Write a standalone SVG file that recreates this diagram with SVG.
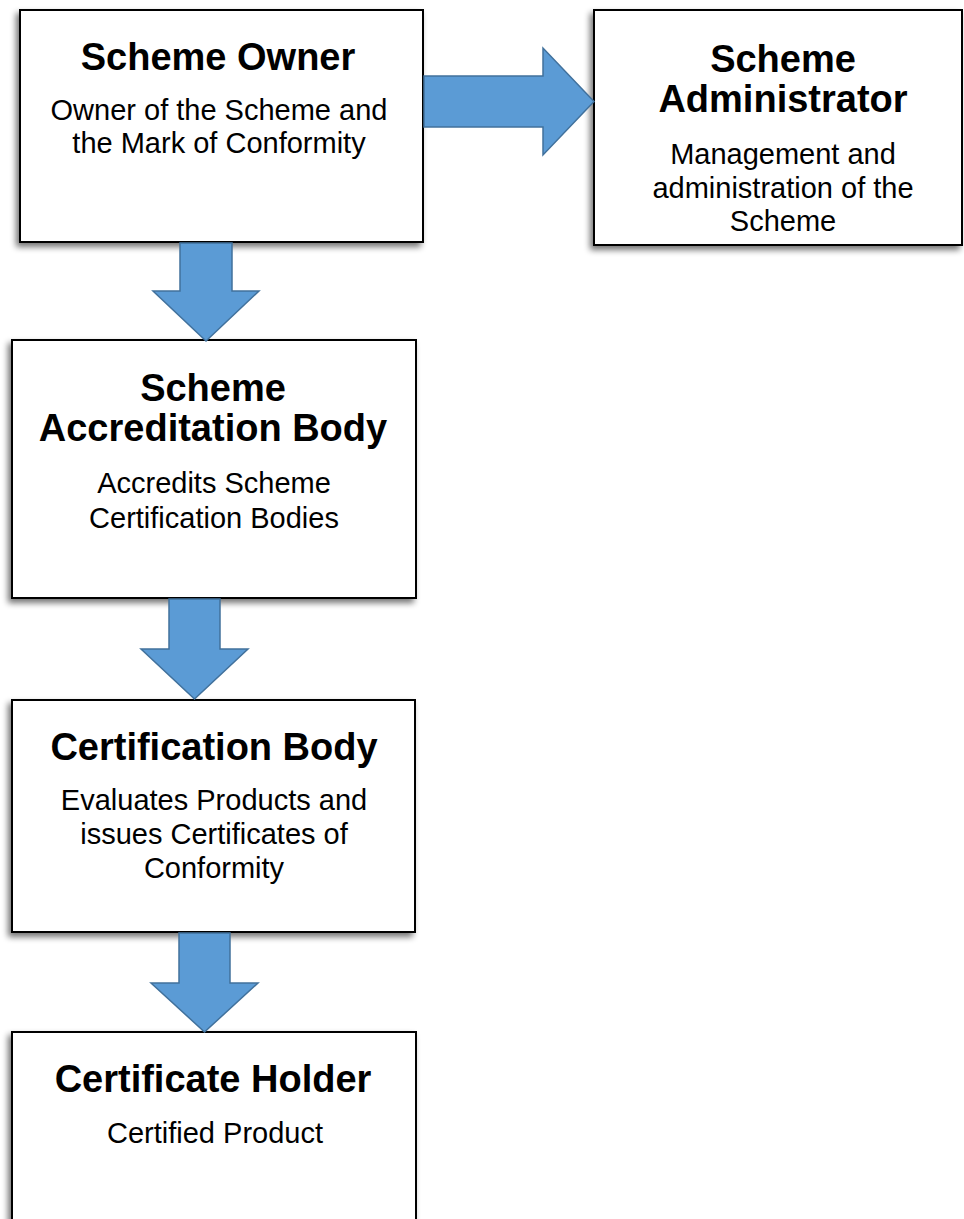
<svg xmlns="http://www.w3.org/2000/svg" width="964" height="1219" viewBox="0 0 964 1219">
  <style>
    .box { fill: #ffffff; stroke: #000000; stroke-width: 2; filter: url(#shadow); }
    .title { font-family: "Liberation Sans", Arial, sans-serif; font-weight: bold; font-size: 38px; fill: #000000; text-anchor: middle; }
    .sub { font-family: "Liberation Sans", Arial, sans-serif; font-size: 29px; fill: #000000; text-anchor: middle; }
    .arrow { fill: #5B9BD5; stroke: #41719C; stroke-width: 1.5; stroke-linejoin: miter; }
  </style>
  <defs>
    <filter id="shadow" x="-10%" y="-10%" width="120%" height="125%">
      <feGaussianBlur in="SourceAlpha" stdDeviation="3"/>
      <feOffset dx="-3" dy="4" result="b"/>
      <feComponentTransfer><feFuncA type="linear" slope="0.55"/></feComponentTransfer>
      <feMerge><feMergeNode/><feMergeNode in="SourceGraphic"/></feMerge>
    </filter>
  </defs>
  <rect width="964" height="1219" fill="#ffffff"/>

  <g id="scheme-owner">
    <rect class="box" x="20" y="10" width="403" height="232"/>
    <text class="title" x="218" y="70">Scheme Owner</text>
    <text class="sub" x="219" y="120">Owner of the Scheme and</text>
    <text class="sub" x="219" y="153">the Mark of Conformity</text>
  </g>

  <g id="scheme-administrator">
    <rect class="box" x="594" y="10" width="368" height="235"/>
    <text class="title" x="783" y="72">Scheme</text>
    <text class="title" x="783" y="112">Administrator</text>
    <text class="sub" x="783" y="164">Management and</text>
    <text class="sub" x="783" y="198">administration of the</text>
    <text class="sub" x="783" y="231">Scheme</text>
  </g>

  <g id="scheme-accreditation-body">
    <rect class="box" x="12" y="340" width="404" height="258"/>
    <text class="title" x="213" y="401">Scheme</text>
    <text class="title" x="213" y="441">Accreditation Body</text>
    <text class="sub" x="214" y="493">Accredits Scheme</text>
    <text class="sub" x="214" y="528">Certification Bodies</text>
  </g>

  <g id="certification-body">
    <rect class="box" x="12" y="700" width="403" height="232"/>
    <text class="title" x="214" y="760">Certification Body</text>
    <text class="sub" x="214" y="810">Evaluates Products and</text>
    <text class="sub" x="214" y="844">issues Certificates of</text>
    <text class="sub" x="214" y="878">Conformity</text>
  </g>

  <g id="certificate-holder">
    <rect class="box" x="12" y="1032" width="404" height="200"/>
    <text class="title" x="213" y="1092">Certificate Holder</text>
    <text class="sub" x="215" y="1143">Certified Product</text>
  </g>

  <g id="connectors">
    <polygon class="arrow" points="424,76 543,76 543,48 594,101.5 543,155 543,127 424,127"/>
    <polygon class="arrow" points="180,243 232,243 232,291 259,291 206,341 153,291 180,291"/>
    <polygon class="arrow" points="169,599 220,599 220,649 248,649 194.5,699 141,649 169,649"/>
    <polygon class="arrow" points="179,933 230,933 230,983 258,983 204.5,1032 151,983 179,983"/>
  </g>
</svg>
